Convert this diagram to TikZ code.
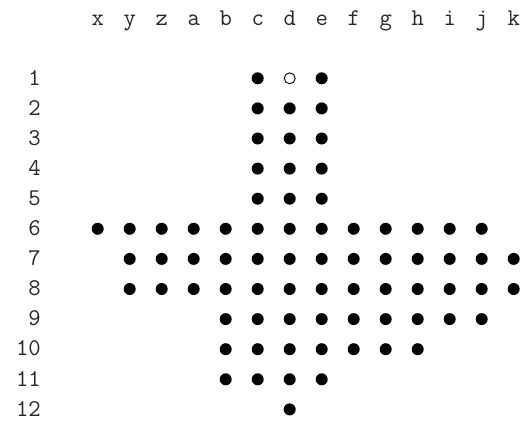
\documentclass[tikz,border=0pt]{standalone}
\usepackage{fontspec}
\begin{document}
\begin{tikzpicture}[x=1pt,y=-1pt,
  lbl/.style={font=\ttfamily\fontsize{24}{24}\selectfont, inner sep=0pt, text=black!85},
  peg/.style={circle, fill=black, minimum size=12pt, inner sep=0pt},
  hole/.style={circle, draw=black, line width=0.9pt, minimum size=11pt, inner sep=0pt}]
\useasboundingbox (0,0) rectangle (523,421);
\def\cx#1{97.7+32.0*#1}
% header letters
\foreach \l [count=\i from 0] in {x,y,z,a,b,c,d,e,f,g,h,i,j,k}
  \node[lbl, anchor=base] (h\i) at ({\cx{\i}},25.5) {\l};
% row labels
\foreach \r in {1,...,12}
  \node[lbl, anchor=base east] (r\r) at (41,{85+30.1*(\r-1)}) {\r};
% pegs: row : first col, last col (indices)
\foreach \r/\a/\b in {2/5/7,3/5/7,4/5/7,5/5/7,6/0/12,7/1/13,8/1/13,9/4/12,10/4/10,11/4/7,12/6/6}
  \foreach \c in {\a,...,\b}
    \node[peg] (p\c-\r) at ({\cx{\c}},{78.3+30.1*(\r-1)}) {};
\node[peg] (p5-1) at ({\cx{5}},78.3) {};
\node[hole] (p6-1) at ({\cx{6}},78.3) {};
\node[peg] (p7-1) at ({\cx{7}},78.3) {};
\end{tikzpicture}
\end{document}
